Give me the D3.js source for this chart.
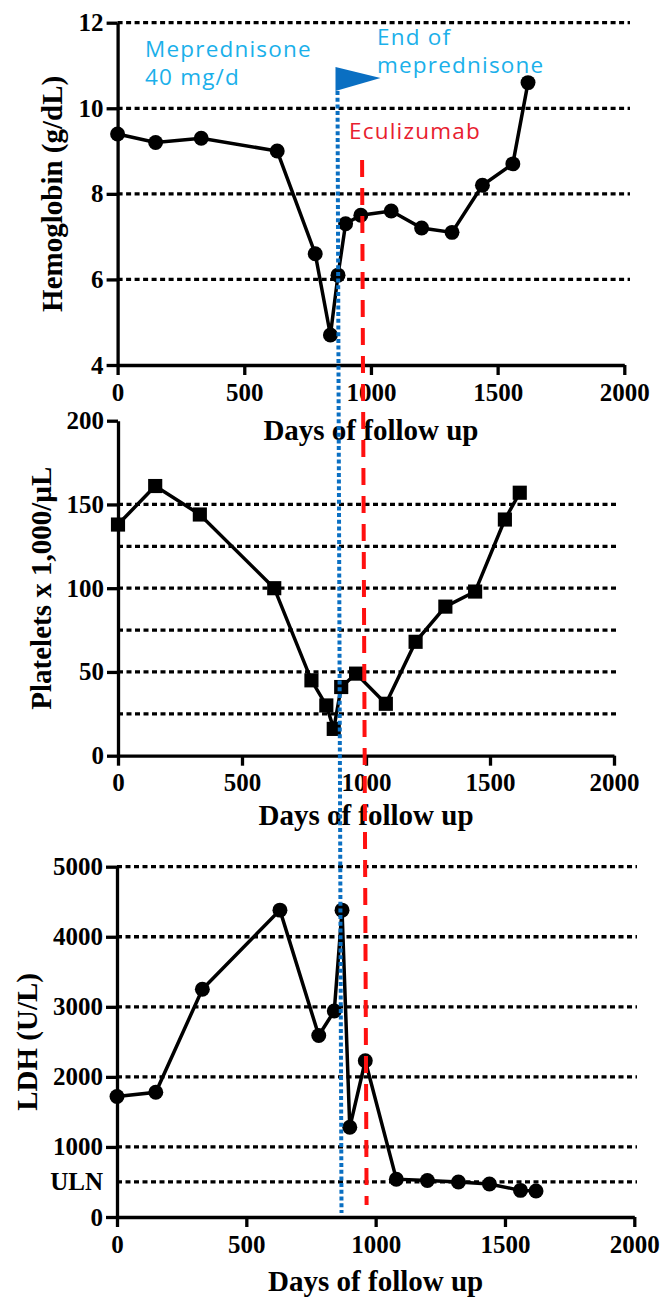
<!DOCTYPE html>
<html>
<head>
<meta charset="utf-8">
<script src="https://cdn.jsdelivr.net/npm/d3@7"></script>
<style>
  body { margin: 0; background: #fff; }
  svg { display: block; }
</style>
</head>
<body>
<script>
// follow-up days shared by all three series
const days = [0, 150, 330, 630, 780, 840, 870, 900, 960, 1080, 1200, 1320, 1440, 1560, 1620];
const hemoglobin = [9.4, 9.2, 9.3, 9.0, 6.6, 4.7, 6.1, 7.3, 7.5, 7.6, 7.2, 7.1, 8.2, 8.7, 10.6];
const platelets = [138, 161, 144, 100, 45, 30, 16, 41, 49, 31, 68, 89, 98, 141, 157];
const ldh = [1720, 1780, 3250, 4380, 2590, 2940, 4380, 1280, 2230, 540, 520, 500, 470, 380, 370];

const xTicks = [0, 500, 1000, 1500, 2000];
const hbTicks = [4, 6, 8, 10, 12];
const hbGrid = [6, 8, 10, 12];
const pltTicks = [0, 50, 100, 150, 200];
const pltGrid = [25, 50, 75, 100, 125, 150];
const ldhTicks = [0, 500, 1000, 2000, 3000, 4000, 5000];
const ldhGrid = [500, 1000, 2000, 3000, 4000, 5000];
const uln = 500;

const mepDay = 868;   // end of meprednisone
const ecuDay = 965;   // eculizumab start

const serif = "'Liberation Serif', 'Times New Roman', serif";
const sans = "'Open Sans', sans-serif";

const svg = d3.select("body").append("svg")
    .attr("width", 664)
    .attr("height", 1298);

function drawPanel(p) {
    const x = d3.scaleLinear().domain([0, 2000]).range([p.left, p.right]);
    const y = d3.scaleLinear().domain(p.domain).range([p.bottom, p.top]);
    const g = svg.append("g");

    // dotted grid
    g.selectAll("line.grid")
        .data(p.grid)
        .join("line")
        .attr("class", "grid")
        .attr("x1", p.left)
        .attr("x2", p.gridEnd)
        .attr("y1", d => y(d))
        .attr("y2", d => y(d))
        .attr("stroke", "#000")
        .attr("stroke-width", 3.3)
        .attr("stroke-dasharray", "5,3.5");

    // x axis
    const gx = g.append("g")
        .attr("transform", `translate(0,${p.bottom})`)
        .call(d3.axisBottom(x).tickValues(xTicks).tickSize(10).tickSizeOuter(0).tickPadding(8).tickFormat(d3.format("d")));
    // y axis
    const gy = g.append("g")
        .attr("transform", `translate(${p.left},0)`)
        .call(d3.axisLeft(y).tickValues(p.ticks).tickSize(11).tickSizeOuter(0).tickPadding(3)
            .tickFormat(d => d === uln && p.uln ? "ULN" : d));
    if (p.uln) {
        gy.selectAll(".tick").filter(d => d === uln).select("line").remove();
    }
    [gx, gy].forEach(a => {
        a.selectAll("path, line").attr("stroke", "#000").attr("stroke-width", 3.3);
        a.selectAll("text")
            .attr("font-family", serif)
            .attr("font-weight", "bold")
            .attr("font-size", 25)
            .attr("fill", "#000");
    });

    // axis titles
    g.append("text")
        .attr("x", (p.left + p.right) / 2)
        .attr("y", p.xTitleY)
        .attr("text-anchor", "middle")
        .attr("font-family", serif)
        .attr("font-weight", "bold")
        .attr("font-size", 29)
        .text("Days of follow up");
    g.append("text")
        .attr("transform", `translate(${p.yTitleX},${(p.top + p.bottom) / 2}) rotate(-90)`)
        .attr("text-anchor", "middle")
        .attr("font-family", serif)
        .attr("font-weight", "bold")
        .attr("font-size", 29)
        .text(p.yTitle);

    // series
    g.append("path")
        .datum(days)
        .attr("d", d3.line()
            .x(d => x(d))
            .y((d, i) => y(p.values[i])))
        .attr("fill", "none")
        .attr("stroke", "#000")
        .attr("stroke-width", 3.5);
    g.selectAll("path.mark")
        .data(days)
        .join("path")
        .attr("class", "mark")
        .attr("transform", (d, i) => `translate(${x(d)},${y(p.values[i])})`)
        .attr("d", d3.symbol().type(p.symbol).size(p.symbolSize))
        .attr("fill", "#000");

    return x;
}

const x1 = drawPanel({
    values: hemoglobin, domain: [4, 12], ticks: hbTicks, grid: hbGrid,
    left: 117.6, right: 624.3, top: 22.7, bottom: 365, gridEnd: 630,
    xTitleY: 440, yTitleX: 62, yTitle: "Hemoglobin (g/dL)",
    symbol: d3.symbolCircle, symbolSize: 175,
});
drawPanel({
    values: platelets, domain: [0, 200], ticks: pltTicks, grid: pltGrid,
    left: 118, right: 614, top: 420.7, bottom: 755.7, gridEnd: 619,
    xTitleY: 825, yTitleX: 51, yTitle: "Platelets x 1,000/µL",
    symbol: d3.symbolSquare, symbolSize: 200,
});
const x3 = drawPanel({
    values: ldh, domain: [0, 5000], ticks: ldhTicks, grid: ldhGrid, uln: true,
    left: 117, right: 634.3, top: 866.7, bottom: 1217, gridEnd: 637,
    xTitleY: 1291, yTitleX: 37, yTitle: "LDH (U/L)",
    symbol: d3.symbolCircle, symbolSize: 175,
});

// treatment markers spanning all panels
svg.append("line")
    .attr("x1", x1(mepDay)).attr("y1", 91)
    .attr("x2", x3(mepDay)).attr("y2", 1213)
    .attr("stroke", "#0a6fc2")
    .attr("stroke-width", 4)
    .attr("stroke-dasharray", "4,2.7");
svg.append("polygon")
    .attr("points", [[x1(mepDay) - 2, 67], [x1(mepDay) - 2, 91], [x1(mepDay) + 43, 78]].join(" "))
    .attr("fill", "#0a6fc2");
svg.append("line")
    .attr("x1", x1(ecuDay)).attr("y1", 160)
    .attr("x2", x3(ecuDay)).attr("y2", 1205)
    .attr("stroke", "#ff1010")
    .attr("stroke-width", 4)
    .attr("stroke-dasharray", "17,11");

const notes = svg.append("g")
    .attr("font-family", sans)
    .attr("font-size", 22.5)
    .attr("letter-spacing", 1.2);
notes.append("text").attr("x", 145).attr("y", 57).attr("fill", "#1bb0ea").text("Meprednisone");
notes.append("text").attr("x", 145).attr("y", 85).attr("fill", "#1bb0ea").text("40 mg/d");
notes.append("text").attr("x", 377).attr("y", 45).attr("fill", "#1bb0ea").text("End of");
notes.append("text").attr("x", 377).attr("y", 73).attr("fill", "#1bb0ea").text("meprednisone");
notes.append("text").attr("x", 349).attr("y", 139).attr("fill", "#e8202e").text("Eculizumab");
</script>
</body>
</html>
